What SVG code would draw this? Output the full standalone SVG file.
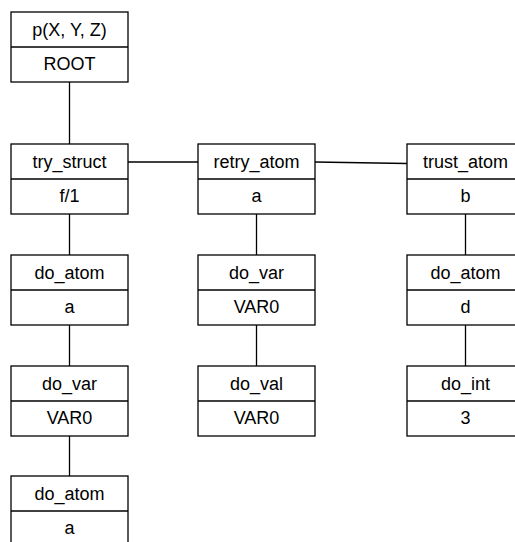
<svg xmlns="http://www.w3.org/2000/svg" width="515" height="542" viewBox="0 0 515 542">
<style>
.b{fill:#fff;stroke:#000;stroke-width:1.3}
.l{stroke:#000;stroke-width:1.3;fill:none}
text{font-family:"Liberation Sans",Arial,sans-serif;font-size:18px;text-anchor:middle;fill:#000}
</style>
<rect width="515" height="542" fill="#fff"/>
<g id="connectors">
<line class="l" x1="69.5" y1="82" x2="69.5" y2="144"/>
<line class="l" x1="128" y1="162" x2="198" y2="162"/>
<line class="l" x1="315" y1="162" x2="407" y2="163.5"/>
<line class="l" x1="69.5" y1="214" x2="69.5" y2="255"/>
<line class="l" x1="69.5" y1="325" x2="69.5" y2="366"/>
<line class="l" x1="69.5" y1="436" x2="69.5" y2="476"/>
<line class="l" x1="256.5" y1="214" x2="256.5" y2="255"/>
<line class="l" x1="256.5" y1="325" x2="256.5" y2="366"/>
<line class="l" x1="465.5" y1="214" x2="465.5" y2="255"/>
<line class="l" x1="465.5" y1="325" x2="465.5" y2="366"/>
</g>
<g id="root"><rect class="b" x="11" y="12" width="117" height="70"/><line class="l" x1="11" y1="47" x2="128" y2="47"/><text x="69.5" y="35.5">p(X, Y, Z)</text><text x="69.5" y="70">ROOT</text></g>
<g id="try_struct"><rect class="b" x="11" y="144" width="117" height="70"/><line class="l" x1="11" y1="179" x2="128" y2="179"/><text x="69.5" y="167.5">try_struct</text><text x="69.5" y="202">f/1</text></g>
<g id="retry_atom"><rect class="b" x="198" y="144" width="117" height="70"/><line class="l" x1="198" y1="179" x2="315" y2="179"/><text x="256.5" y="167.5">retry_atom</text><text x="256.5" y="202">a</text></g>
<g id="trust_atom"><rect class="b" x="407" y="144" width="117" height="70"/><line class="l" x1="407" y1="179" x2="524" y2="179"/><text x="465.5" y="167.5">trust_atom</text><text x="465.5" y="202">b</text></g>
<g id="do_atom_1"><rect class="b" x="11" y="255" width="117" height="70"/><line class="l" x1="11" y1="290" x2="128" y2="290"/><text x="69.5" y="278.5">do_atom</text><text x="69.5" y="313">a</text></g>
<g id="do_var_1"><rect class="b" x="11" y="366" width="117" height="70"/><line class="l" x1="11" y1="401" x2="128" y2="401"/><text x="69.5" y="389.5">do_var</text><text x="69.5" y="424">VAR0</text></g>
<g id="do_atom_2"><rect class="b" x="11" y="476" width="117" height="70"/><line class="l" x1="11" y1="511" x2="128" y2="511"/><text x="69.5" y="499.5">do_atom</text><text x="69.5" y="534">a</text></g>
<g id="do_var_2"><rect class="b" x="198" y="255" width="117" height="70"/><line class="l" x1="198" y1="290" x2="315" y2="290"/><text x="256.5" y="278.5">do_var</text><text x="256.5" y="313">VAR0</text></g>
<g id="do_val"><rect class="b" x="198" y="366" width="117" height="70"/><line class="l" x1="198" y1="401" x2="315" y2="401"/><text x="256.5" y="389.5">do_val</text><text x="256.5" y="424">VAR0</text></g>
<g id="do_atom_3"><rect class="b" x="407" y="255" width="117" height="70"/><line class="l" x1="407" y1="290" x2="524" y2="290"/><text x="465.5" y="278.5">do_atom</text><text x="465.5" y="313">d</text></g>
<g id="do_int"><rect class="b" x="407" y="366" width="117" height="70"/><line class="l" x1="407" y1="401" x2="524" y2="401"/><text x="465.5" y="389.5">do_int</text><text x="465.5" y="424">3</text></g>
</svg>
